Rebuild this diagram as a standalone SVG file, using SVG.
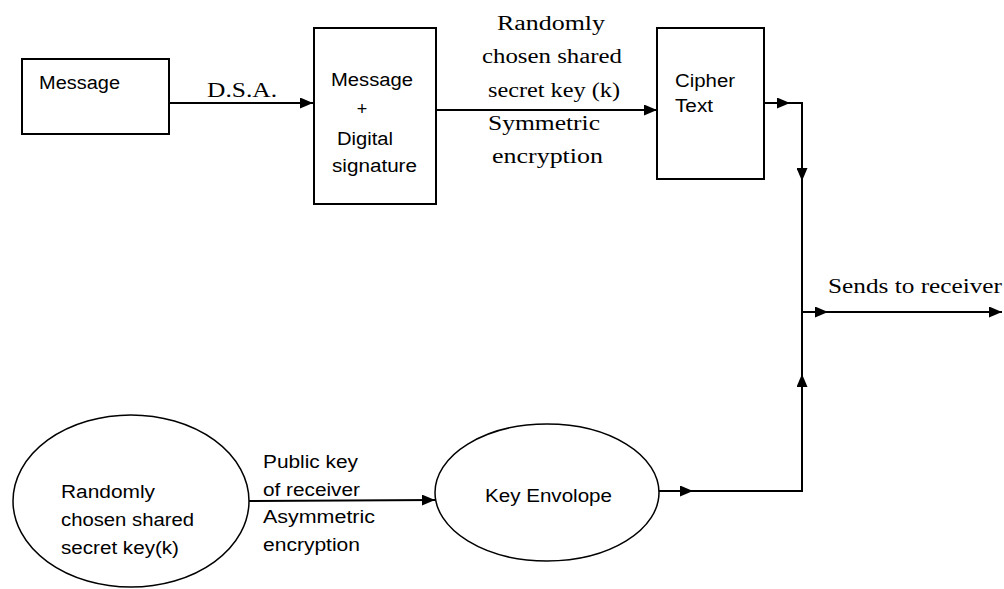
<svg xmlns="http://www.w3.org/2000/svg" width="1004" height="589" viewBox="0 0 1004 589">
<style>
.box{fill:#fff;stroke:#000;stroke-width:2}
.ell{fill:#fff;stroke:#000;stroke-width:1.5}
.ln{fill:none;stroke:#000;stroke-width:2}
.sans{font-family:"Liberation Sans",Arial,sans-serif;font-size:18px;fill:#000}
.serif{font-family:"Liberation Serif","Times New Roman",serif;font-size:20px;fill:#000}
</style>
<defs>
<marker id="ah" viewBox="0 0 13 11" refX="13" refY="5.5" markerWidth="13" markerHeight="11" markerUnits="userSpaceOnUse" orient="auto">
<path d="M0,0 L13,5.5 L0,11 z" fill="#000"/>
</marker>
</defs>
<g id="connectors">
<path class="ln" d="M169,103 L313,103" marker-end="url(#ah)"/>
<path class="ln" d="M436,110 L657,110" marker-end="url(#ah)"/>
<path class="ln" d="M764,103 L790,103" marker-end="url(#ah)"/>
<path class="ln" d="M789,103 L802,103 L802,181" marker-end="url(#ah)"/>
<path class="ln" d="M802,180 L802,312"/>
<path class="ln" d="M802,312 L828,312" marker-end="url(#ah)"/>
<path class="ln" d="M827,312 L1002,312" marker-end="url(#ah)"/>
<path class="ln" d="M249,501 L435,500" marker-end="url(#ah)"/>
<path class="ln" d="M659,491 L693,491" marker-end="url(#ah)"/>
<path class="ln" d="M692,491 L802,491 L802,374" marker-end="url(#ah)"/>
<path class="ln" d="M802,375 L802,312"/>
<text class="serif" x="207" y="97" textLength="70" lengthAdjust="spacingAndGlyphs">D.S.A.</text>
<text class="serif" x="497" y="30" textLength="108" lengthAdjust="spacingAndGlyphs">Randomly</text>
<text class="serif" x="482" y="63" textLength="140" lengthAdjust="spacingAndGlyphs">chosen shared</text>
<text class="serif" x="488" y="97" textLength="132" lengthAdjust="spacingAndGlyphs">secret key (k)</text>
<text class="serif" x="488" y="130" textLength="112" lengthAdjust="spacingAndGlyphs">Symmetric</text>
<text class="serif" x="492" y="163" textLength="111" lengthAdjust="spacingAndGlyphs">encryption</text>
<text class="serif" x="828" y="293" textLength="174" lengthAdjust="spacingAndGlyphs">Sends to receiver</text>
<text class="sans" x="263" y="468" textLength="95" lengthAdjust="spacingAndGlyphs">Public key</text>
<text class="sans" x="263" y="496" textLength="97" lengthAdjust="spacingAndGlyphs">of receiver</text>
<text class="sans" x="263" y="523" textLength="112" lengthAdjust="spacingAndGlyphs">Asymmetric</text>
<text class="sans" x="263" y="551" textLength="97" lengthAdjust="spacingAndGlyphs">encryption</text>
</g>
<g id="node-message">
<rect class="box" x="22" y="59" width="147" height="75"/>
<text class="sans" x="39" y="89" textLength="81" lengthAdjust="spacingAndGlyphs">Message</text>
</g>
<g id="node-message-signature">
<rect class="box" x="314" y="28" width="122" height="176"/>
<text class="sans" x="331" y="86" textLength="82" lengthAdjust="spacingAndGlyphs">Message</text>
<text class="sans" x="362" y="115" text-anchor="middle">+</text>
<text class="sans" x="337" y="145" textLength="56" lengthAdjust="spacingAndGlyphs">Digital</text>
<text class="sans" x="332" y="172" textLength="85" lengthAdjust="spacingAndGlyphs">signature</text>
</g>
<g id="node-cipher">
<rect class="box" x="657" y="28" width="107" height="151"/>
<text class="sans" x="675" y="87" textLength="60" lengthAdjust="spacingAndGlyphs">Cipher</text>
<text class="sans" x="675" y="112" textLength="38" lengthAdjust="spacingAndGlyphs">Text</text>
</g>
<g id="node-secret-key">
<ellipse class="ell" cx="131" cy="501" rx="118" ry="86"/>
<text class="sans" x="61" y="498" textLength="94" lengthAdjust="spacingAndGlyphs">Randomly</text>
<text class="sans" x="61" y="526" textLength="133" lengthAdjust="spacingAndGlyphs">chosen shared</text>
<text class="sans" x="61" y="554" textLength="118" lengthAdjust="spacingAndGlyphs">secret key(k)</text>
</g>
<g id="node-key-envelope">
<ellipse class="ell" cx="547" cy="492.5" rx="112" ry="68.5"/>
<text class="sans" x="485" y="502" textLength="127" lengthAdjust="spacingAndGlyphs">Key Envolope</text>
</g>
</svg>
